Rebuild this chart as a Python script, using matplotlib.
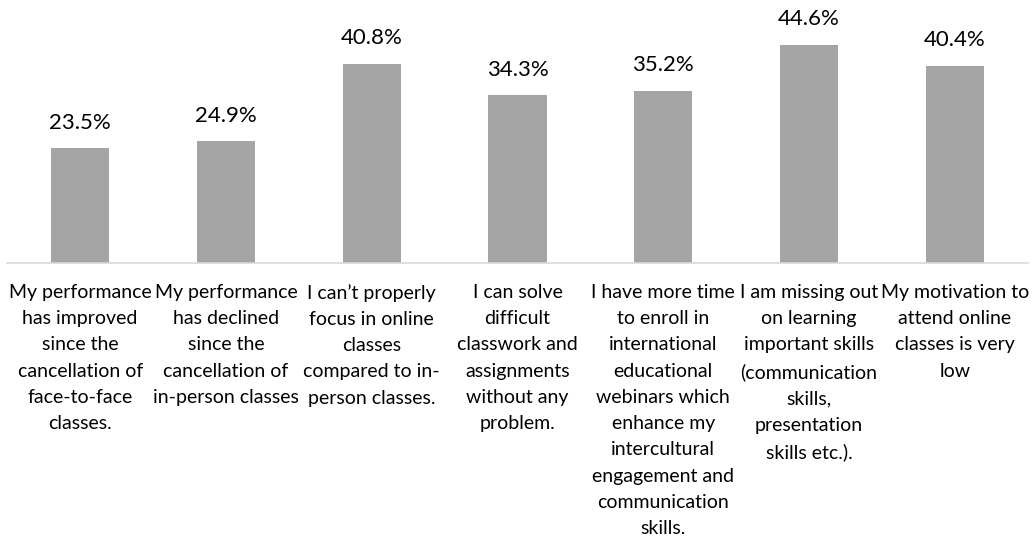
import numpy as np
import matplotlib.pyplot as plt

plt.rcParams['font.family'] = ['Lato', 'DejaVu Sans']

labels = [
    "My performance\nhas improved\nsince the\ncancellation of\nface-to-face\nclasses.",
    "My performance\nhas declined\nsince the\ncancellation of\nin-person classes",
    "I can\u2019t properly\nfocus in online\nclasses\ncompared to in-\nperson classes.",
    "I can solve\ndifficult\nclasswork and\nassignments\nwithout any\nproblem.",
    "I have more time\nto enroll in\ninternational\neducational\nwebinars which\nenhance my\nintercultural\nengagement and\ncommunication\nskills.",
    "I am missing out\non learning\nimportant skills\n(communication\nskills,\npresentation\nskills etc.).",
    "My motivation to\nattend online\nclasses is very\nlow",
]
values = [23.5, 24.9, 40.8, 34.3, 35.2, 44.6, 40.4]

fig = plt.figure(figsize=(10.35, 5.4), dpi=100)
ax = fig.add_axes([0.007, 1 - 263 / 540, 0.986, 263 / 540])

x = np.arange(len(values))
ax.bar(x, values, width=0.4, color='#A5A5A5')
for xi, v in zip(x, values):
    ax.text(xi, v + 4.0, f"{v:.1f}%", ha='center', va='baseline', fontsize=16, color='#000000')

ax.set_xlim(-0.5, len(values) - 0.5)
ax.set_ylim(0, 53.8)
ax.set_yticks([])
ax.set_xticks(x)
ax.set_xticklabels(labels, fontsize=14, linespacing=1.66, va='top')
ax.tick_params(axis='x', length=0, pad=15)
for s in ['top', 'right', 'left']:
    ax.spines[s].set_visible(False)
ax.spines['bottom'].set_color('#D9D9D9')
ax.spines['bottom'].set_linewidth(1.2)

fig.savefig('out.png', dpi=100)
